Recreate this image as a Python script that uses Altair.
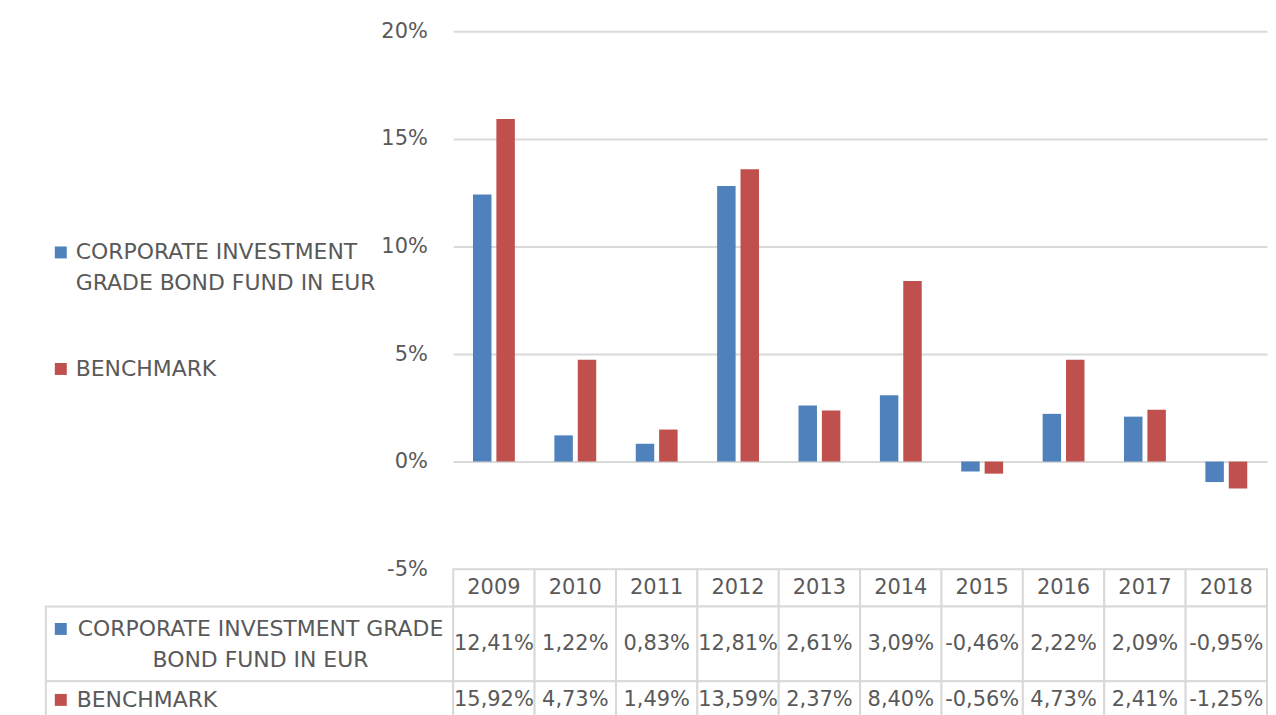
import altair as alt
import pandas as pd

years = ["2009", "2010", "2011", "2012", "2013", "2014", "2015", "2016", "2017", "2018"]
fund = [12.41, 1.22, 0.83, 12.81, 2.61, 3.09, -0.46, 2.22, 2.09, -0.95]
bench = [15.92, 4.73, 1.49, 13.59, 2.37, 8.40, -0.56, 4.73, 2.41, -1.25]
series = ["CORPORATE INVESTMENT GRADE BOND FUND IN EUR", "BENCHMARK"]
colors = ["#4F81BD", "#C0504D"]
yticks = [-0.05, 0.0, 0.05, 0.10, 0.15, 0.20]

FONT = "DejaVu Sans"
TXT = "#595959"
GRID = "#D9D9D9"
NUM_SIZE = 21
LBL_SIZE = 22


def fmt(v):
    return f"{v:.2f}".replace(".", ",") + "%"


# bar data
bar_rows = []
for i, yr in enumerate(years):
    bar_rows.append(dict(year=yr, series=series[0], value=fund[i] / 100))
    bar_rows.append(dict(year=yr, series=series[1], value=bench[i] / 100))
bar_df = pd.DataFrame(bar_rows)

# table cell data (row bands: header 0-1, fund 1-3, benchmark 3-4)
cell_rows = []
for i, yr in enumerate(years):
    cell_rows.append(dict(year=yr, top=0, bot=1, mid=0.5, label=yr))
    cell_rows.append(dict(year=yr, top=1, bot=3, mid=2, label=fmt(fund[i])))
    cell_rows.append(dict(year=yr, top=3, bot=4, mid=3.5, label=fmt(bench[i])))
cell_df = pd.DataFrame(cell_rows)

label_df = pd.DataFrame(
    dict(
        series=series,
        text=["CORPORATE INVESTMENT GRADE\nBOND FUND IN EUR", "BENCHMARK"],
        top=[1, 3],
        bot=[3, 4],
        mid=[2, 3.5],
        col=colors,
    )
)

row_scale = alt.Scale(domain=[0, 4], reverse=True, nice=False, zero=False)
year_scale = alt.Scale(domain=years, paddingInner=0, paddingOuter=0)
unit_scale = alt.Scale(domain=[0, 1], nice=False, zero=False)

# empty panel that hosts the legend area
legend_panel = (
    alt.Chart(pd.DataFrame({"a": [0]}))
    .mark_point(opacity=0)
    .encode(x=alt.X("a:Q", axis=None), y=alt.Y("a:Q", axis=None))
    .properties(width=409, height=540)
)

bars = (
    alt.Chart(bar_df)
    .mark_bar()
    .encode(
        x=alt.X("year:N", scale=year_scale, axis=None, sort=years),
        xOffset=alt.XOffset(
            "series:N",
            scale=alt.Scale(domain=series, paddingInner=0.21, paddingOuter=0.845),
            sort=series,
        ),
        y=alt.Y(
            "value:Q",
            scale=alt.Scale(domain=[-0.05, 0.2], nice=False),
            axis=alt.Axis(
                values=yticks,
                format=".0%",
                labelExpr="replace(datum.label, '\u2212', '-')",
                grid=True,
                gridColor=GRID,
                gridWidth=2,
                domain=False,
                ticks=False,
                labelPadding=26,
                labelFont=FONT,
                labelFontSize=NUM_SIZE,
                labelColor=TXT,
                title=None,
            ),
        ),
        color=alt.Color(
            "series:N",
            scale=alt.Scale(domain=series, range=colors),
            sort=series,
            legend=alt.Legend(
                orient="none",
                legendX=-405,
                legendY=211,
                title=None,
                padding=0,
                symbolType="square",
                symbolSize=144,
                symbolStrokeWidth=0,
                labelFont=FONT,
                labelFontSize=LBL_SIZE,
                labelColor=TXT,
                labelLimit=400,
                labelOffset=4,
                rowPadding=64,
                labelExpr="datum.label == 'BENCHMARK' ? datum.label : ['CORPORATE INVESTMENT', 'GRADE BOND FUND IN EUR']",
            ),
        ),
    )
    .properties(width=817, height=540)
)

# left column of the data table
lc_base = alt.Chart(label_df)
lc_cells = lc_base.mark_rect(fill="white", stroke=GRID, strokeWidth=2).encode(
    x=alt.datum(0, scale=unit_scale, axis=None),
    x2=alt.datum(1),
    y=alt.Y("top:Q", scale=row_scale, axis=None),
    y2="bot:Q",
)
lc_squares = lc_base.mark_square(
    size=144, opacity=1, xOffset=15, yOffset=alt.expr("datum.series == 'BENCHMARK' ? 0 : -15")
).encode(
    x=alt.datum(0, scale=unit_scale, axis=None),
    y=alt.Y("mid:Q", scale=row_scale, axis=None),
    color=alt.Color("col:N", scale=None),
)
lc_text_fund = (
    lc_base.transform_filter("datum.series != 'BENCHMARK'")
    .mark_text(
        font=FONT, fontSize=LBL_SIZE, color=TXT, align="center", baseline="middle",
        lineBreak="\n", lineHeight=31, xOffset=11, dy=-15,
    )
    .encode(
        x=alt.datum(0.5, scale=unit_scale, axis=None),
        y=alt.Y("mid:Q", scale=row_scale, axis=None),
        text="text:N",
    )
)
lc_text_bench = (
    lc_base.transform_filter("datum.series == 'BENCHMARK'")
    .mark_text(font=FONT, fontSize=LBL_SIZE, color=TXT, align="left", baseline="middle", xOffset=31)
    .encode(
        x=alt.datum(0, scale=unit_scale, axis=None),
        y=alt.Y("mid:Q", scale=row_scale, axis=None),
        text="text:N",
    )
)
left_col = alt.layer(lc_cells, lc_squares, lc_text_fund, lc_text_bench).properties(
    width=409, height=150
)

# value columns of the data table
vc_base = alt.Chart(cell_df)
vc_cells = vc_base.mark_rect(fill="white", stroke=GRID, strokeWidth=2).encode(
    x=alt.X("year:N", scale=year_scale, axis=None, sort=years),
    y=alt.Y("top:Q", scale=row_scale, axis=None),
    y2="bot:Q",
)
vc_text = vc_base.mark_text(font=FONT, fontSize=NUM_SIZE, color=TXT, baseline="middle").encode(
    x=alt.X("year:N", scale=year_scale, axis=None, sort=years),
    y=alt.Y("mid:Q", scale=row_scale, axis=None),
    text="label:N",
)
values_tbl = alt.layer(vc_cells, vc_text).properties(width=817, height=150)

chart = (
    alt.concat(legend_panel, bars, left_col, values_tbl, columns=2, spacing=0, bounds="flush", align="each")
    .resolve_scale(x="independent", y="independent", color="independent")
    .configure(style={"guide-label": {"lineHeight": 31}})
    .configure_view(strokeWidth=0, stroke="transparent")
    .properties(padding={"left": 37, "top": 11, "right": 0, "bottom": 0}, background="white")
)

chart.save("out.html", embed_options={"renderer": "svg", "actions": False})
